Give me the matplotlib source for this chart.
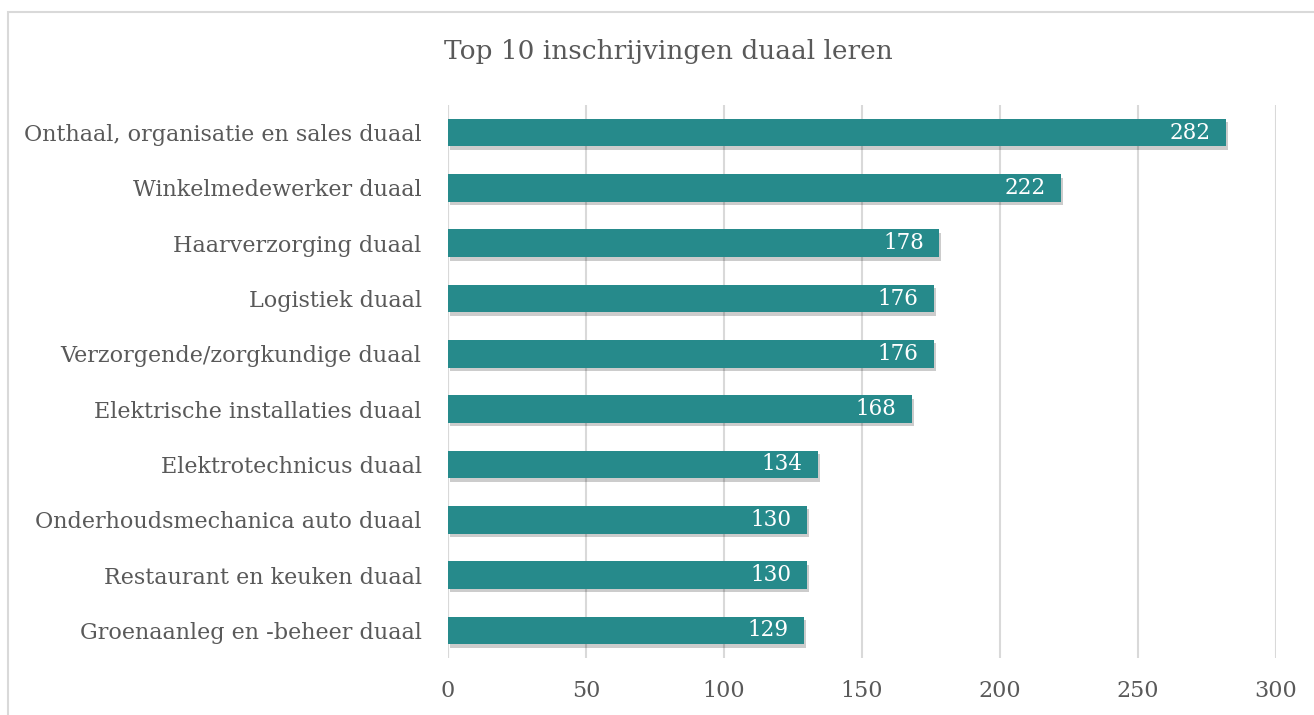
import matplotlib
matplotlib.use('Agg')
import matplotlib.pyplot as plt
import matplotlib.patheffects as pe
from matplotlib.patches import Rectangle

# data, top to bottom as shown in the chart
categories = ['Onthaal, organisatie en sales duaal', 'Winkelmedewerker duaal',
              'Haarverzorging duaal', 'Logistiek duaal',
              'Verzorgende/zorgkundige duaal', 'Elektrische installaties duaal',
              'Elektrotechnicus duaal', 'Onderhoudsmechanica auto duaal',
              'Restaurant en keuken duaal', 'Groenaanleg en -beheer duaal']
values = [282, 222, 178, 176, 176, 168, 134, 130, 130, 129]
xticks = [0, 50, 100, 150, 200, 250, 300]

bar_color = '#268A8B'
text_color = '#595959'
grid_color = '#D9D9D9'

plt.rcParams['font.family'] = ['DejaVu Serif']

fig = plt.figure(figsize=(13.14, 7.15), dpi=100)
ax = fig.add_axes([448 / 1314, 1 - 658 / 715, (1276 - 448) / 1314, 553 / 715])

# outer chart border (light grey)
fig.patches.append(Rectangle((8 / 1314, -0.05), 1.2, 1 - 12 / 715 + 0.05,
                             transform=fig.transFigure, fill=False,
                             edgecolor='#D9D9D9', linewidth=1.5))

ypos = list(range(len(categories)))
bars = ax.barh(ypos, values, height=0.5, color=bar_color, zorder=3)
for b in bars:
    b.set_path_effects([pe.SimplePatchShadow(offset=(1.5, -2.5), shadow_rgbFace='black', alpha=0.2),
                        pe.Normal()])

for y, v in zip(ypos, values):
    ax.text(v - 5.5, y, str(v), ha='right', va='center', color='white',
            fontsize=15.5, zorder=4)

ax.set_ylim(len(categories) - 0.5, -0.5)
ax.set_xlim(0, 300)
ax.set_yticks(ypos)
ax.set_yticklabels(categories, fontsize=16, color=text_color)
ax.set_xticks(xticks)
ax.set_xticklabels([str(t) for t in xticks], fontsize=16, color=text_color)
ax.tick_params(axis='both', length=0)
ax.tick_params(axis='y', pad=19)
ax.tick_params(axis='x', pad=16)
ax.grid(axis='x', color=grid_color, linewidth=1.5, zorder=0)
for s in ax.spines.values():
    s.set_visible(False)
ax.axvline(0, color=grid_color, linewidth=1.5, zorder=1)

fig.text(668 / 1314, 1 - 52 / 715, 'Top 10 inschrijvingen duaal leren',
         ha='center', va='center', fontsize=19, color=text_color)

fig.savefig('out.png', dpi=100)
